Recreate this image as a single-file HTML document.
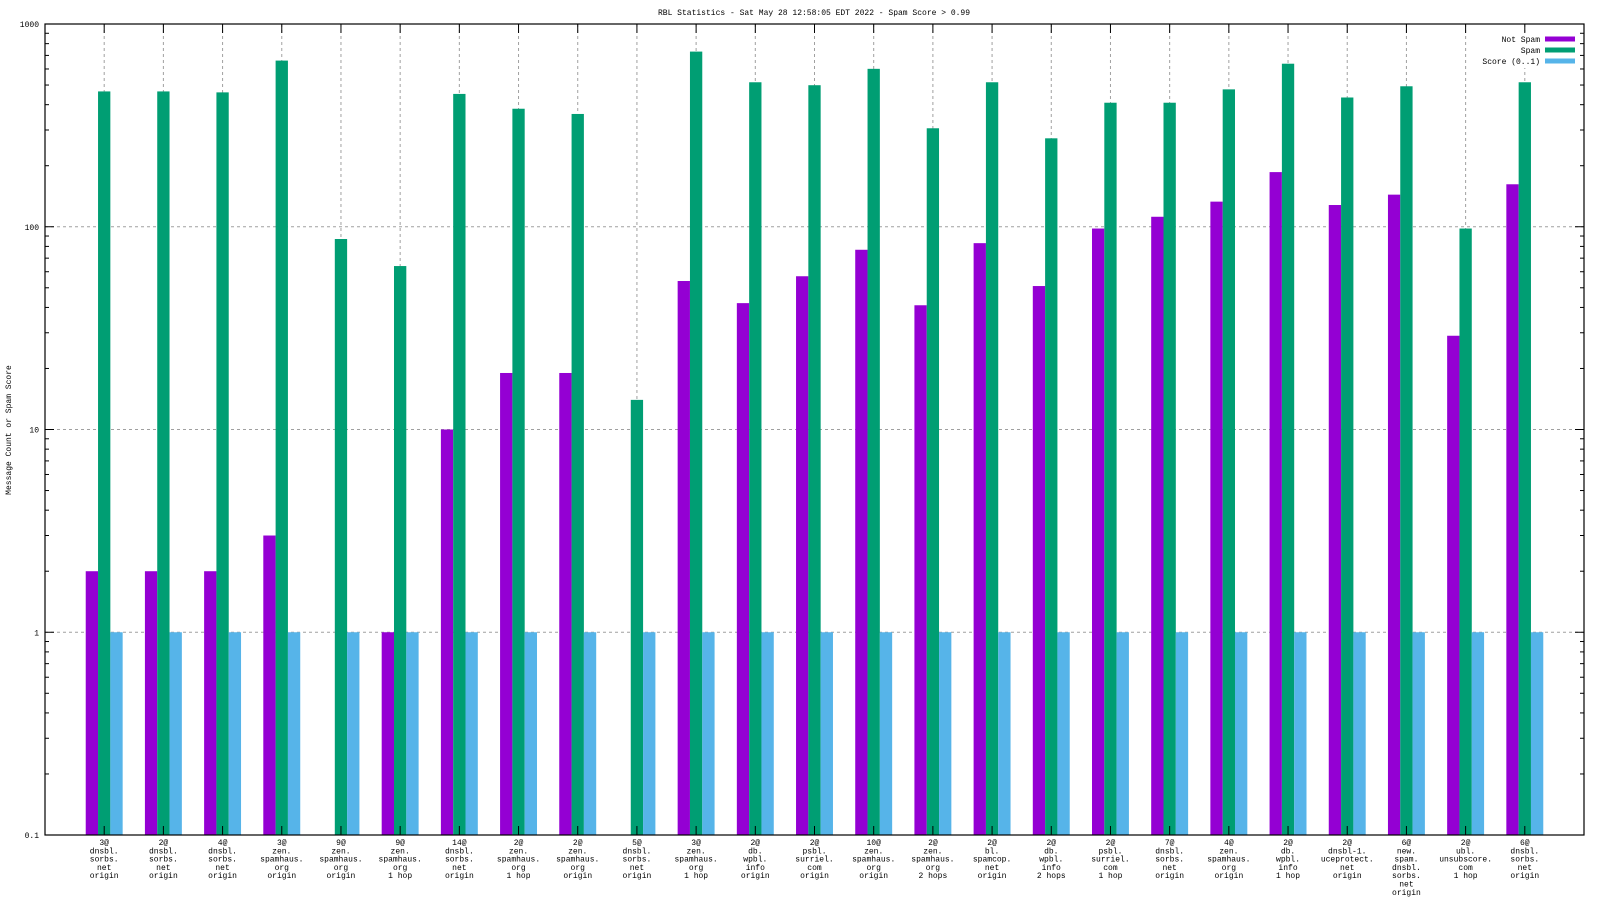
<!DOCTYPE html>
<html><head><meta charset="utf-8"><style>
html,body{margin:0;padding:0;background:#fff;}
svg{display:block;font-family:"Liberation Mono",monospace;}
</style></head><body>
<svg id="chart" width="1600" height="900" xmlns="http://www.w3.org/2000/svg">
<text x="814" y="15" font-size="8" text-anchor="middle">RBL Statistics - Sat May 28 12:58:05 EDT 2022 - Spam Score &gt; 0.99</text>
<text x="0" y="0" font-size="8" text-anchor="middle" transform="translate(11,430) rotate(-90)">Message Count or Spam Score</text>
<g id="grid"></g><g id="bars"></g><g id="legend"></g><g id="axes"></g>
</svg>
<script>
const categories = [
["3@","dnsbl.","sorbs.","net","origin"],["2@","dnsbl.","sorbs.","net","origin"],["4@","dnsbl.","sorbs.","net","origin"],
["3@","zen.","spamhaus.","org","origin"],["9@","zen.","spamhaus.","org","origin"],["9@","zen.","spamhaus.","org","1 hop"],
["14@","dnsbl.","sorbs.","net","origin"],["2@","zen.","spamhaus.","org","1 hop"],["2@","zen.","spamhaus.","org","origin"],
["5@","dnsbl.","sorbs.","net","origin"],["3@","zen.","spamhaus.","org","1 hop"],["2@","db.","wpbl.","info","origin"],
["2@","psbl.","surriel.","com","origin"],["10@","zen.","spamhaus.","org","origin"],["2@","zen.","spamhaus.","org","2 hops"],
["2@","bl.","spamcop.","net","origin"],["2@","db.","wpbl.","info","2 hops"],["2@","psbl.","surriel.","com","1 hop"],
["7@","dnsbl.","sorbs.","net","origin"],["4@","zen.","spamhaus.","org","origin"],["2@","db.","wpbl.","info","1 hop"],
["2@","dnsbl-1.","uceprotect.","net","origin"],["6@","new.","spam.","dnsbl.","sorbs.","net","origin"],["2@","ubl.","unsubscore.","com","1 hop"],
["6@","dnsbl.","sorbs.","net","origin"]];
const notSpam = [2,2,2,3,0,1,10,19,19,0,54,42,57,77,41,83,51,98,112,133,186,128,144,29,162];
const spam = [465,465,460,660,87,64,452,382,360,14,731,516,499,601,306,516,273,409,409,476,637,434,493,98,516];
const score = [1,1,1,1,1,1,1,1,1,1,1,1,1,1,1,1,1,1,1,1,1,1,1,1,1];
const yTicks = [0.1,1,10,100,1000];
const yTickLabels = ["0.1","1","10","100","1000"];
const series = [["Not Spam",notSpam,"#9400d3"],["Spam",spam,"#009e73"],["Score (0..1)",score,"#56b4e9"]];

const L=45,R=1584,T=24,B=835,NS="http://www.w3.org/2000/svg";
const xs=i=>L+(i+1)*(R-L)/26;
const ys=v=>B-(Math.log10(v)+1)*(B-T)/4;
const unit=(R-L)/26, bw=unit*0.208;
function mk(tag,attrs,parent){const e=document.createElementNS(NS,tag);for(const k in attrs)e.setAttribute(k,attrs[k]);parent.appendChild(e);return e;}
const grid=document.getElementById('grid'),bars=document.getElementById('bars'),axes=document.getElementById('axes'),leg=document.getElementById('legend');
yTicks.forEach((v,k)=>{const y=ys(v);
 if(k>0&&k<yTicks.length-1){const g=mk('line',{x1:L,x2:R,y1:y,y2:y,stroke:'#a0a0a0','stroke-dasharray':'3,3','stroke-width':1},grid);}
 const t=mk('text',{x:L-6,y:y+3,'font-size':8,'text-anchor':'end'},axes);t.textContent=yTickLabels[k];
 
 mk('line',{x1:L,x2:L+9,y1:y,y2:y,stroke:'#000'},axes);mk('line',{x1:R,x2:R-9,y1:y,y2:y,stroke:'#000'},axes);
 if(k<yTicks.length-1){for(let m=2;m<10;m++){const ym=ys(v*m);mk('line',{x1:L,x2:L+4,y1:ym,y2:ym,stroke:'#000'},axes);mk('line',{x1:R,x2:R-4,y1:ym,y2:ym,stroke:'#000'},axes);}}
});
categories.forEach((c,i)=>{const x=xs(i);
 const g=mk('line',{x1:x,x2:x,y1:T,y2:B,stroke:'#a0a0a0','stroke-dasharray':'3,3'},grid);
 mk('line',{x1:x,x2:x,y1:T,y2:T+9,stroke:'#000'},axes);mk('line',{x1:x,x2:x,y1:B,y2:B-9,stroke:'#000'},axes);
 const t=mk('text',{x:x,y:845,'font-size':8,'text-anchor':'middle'},axes);
 
 c.forEach((ln,j)=>{const s=mk('tspan',{x:x,dy:j?8.3:0},t);s.textContent=ln;});
 series.forEach((s,si)=>{const v=s[1][i];if(!(v>0.1))return;const y=ys(v);
  const r=mk('rect',{x:x+(si-1)*bw-bw/2,y:y,width:bw,height:B-y,fill:s[2]},bars);
  });
});
const fr=mk('rect',{x:L,y:T,width:R-L,height:B-T,fill:'none',stroke:'#000','stroke-width':1.2},axes);

const lb=mk('rect',{x:1476,y:32,width:104,height:36,fill:'#fff'},leg);

series.forEach((s,si)=>{const y=39+si*11;
 const t=mk('text',{x:1540,y:y+3,'font-size':8,'text-anchor':'end'},leg);t.textContent=s[0];
 
 const r=mk('rect',{x:1545,y:y-2.5,width:30,height:5,fill:s[2]},leg);
 });
</script>
</body></html>
